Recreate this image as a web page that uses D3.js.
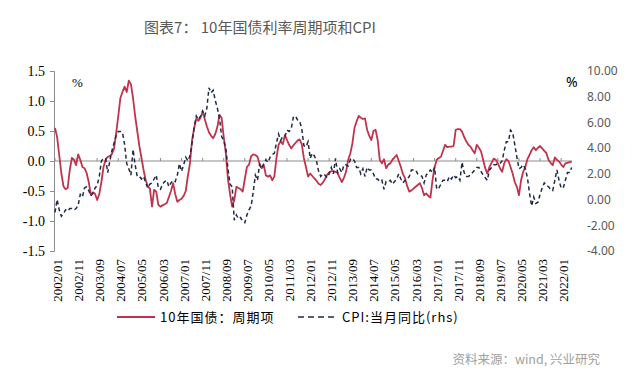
<html>
<head>
<meta charset="utf-8">
<title>10年国债利率周期项和CPI</title>
<style>
  body { margin: 0; background: #fff; }
</style>
</head>
<body>
<script src="https://cdnjs.cloudflare.com/ajax/libs/d3/7.8.5/d3.min.js"></script>
<script type="text/javascript">

// monthly, 2002/01 .. 2022/06
var bondCycle = [
  0.55, 0.40, 0.10, -0.20, -0.42, -0.47, -0.45, -0.15, 0.05, 0.02, -0.07, 0.11,
  0.02, -0.10, -0.12, -0.20, -0.35, -0.57, -0.52, -0.55, -0.65, -0.55, -0.35, -0.10,
  0.02, 0.07, 0.08, 0.12, 0.21, 0.46, 0.75, 1.05, 1.15, 1.24, 1.15, 1.34,
  1.28, 1.05, 0.75, 0.50, 0.25, 0.05, -0.15, -0.32, -0.42, -0.46, -0.76, -0.48,
  -0.51, -0.73, -0.76, -0.74, -0.72, -0.70, -0.60, -0.50, -0.37, -0.55, -0.68, -0.65,
  -0.63, -0.58, -0.50, -0.25, -0.04, 0.35, 0.55, 0.71, 0.67, 0.72, 0.82, 0.70,
  0.58, 0.48, 0.42, 0.38, 0.45, 0.57, 0.77, 0.72, 0.40, 0.13, -0.30, -0.55,
  -0.76, -0.65, -0.43, -0.45, -0.47, -0.51, -0.30, -0.10, -0.06, 0.08, 0.11, 0.10,
  0.07, -0.05, -0.12, -0.07, -0.24, -0.26, -0.24, -0.32, -0.26, 0.05, 0.27, 0.33,
  0.28, 0.43, 0.35, 0.27, 0.21, 0.26, 0.30, 0.34, 0.36, 0.28, 0.05, -0.10,
  -0.26, -0.21, -0.25, -0.29, -0.33, -0.38, -0.40, -0.36, -0.30, -0.23, -0.19, -0.17,
  -0.17, -0.18, -0.20, -0.28, -0.35, -0.28, -0.18, 0.02, 0.12, 0.29, 0.55, 0.66,
  0.75, 0.72, 0.70, 0.71, 0.52, 0.42, 0.35, 0.50, 0.52, 0.35, 0.02, -0.04,
  0.03, -0.12, -0.06, -0.04, 0.02, 0.06, 0.10, 0.00, -0.10, -0.22, -0.29, -0.42,
  -0.51, -0.49, -0.46, -0.43, -0.40, -0.37, -0.45, -0.57, -0.54, -0.58, -0.61, -0.32,
  -0.10, 0.02, 0.05, 0.07, 0.17, 0.27, 0.23, 0.24, 0.24, 0.25, 0.52, 0.53,
  0.53, 0.49, 0.40, 0.33, 0.27, 0.24, 0.18, 0.13, 0.27, 0.22, 0.16, 0.02,
  -0.12, -0.21, -0.10, -0.03, 0.04, 0.02, -0.04, -0.12, -0.18, -0.04, 0.03, 0.00,
  -0.10, -0.21, -0.35, -0.43, -0.57, -0.32, -0.18, -0.10, 0.03, 0.10, 0.18, 0.23,
  0.18, 0.22, 0.25, 0.21, 0.17, 0.13, 0.02, -0.03, -0.07, 0.06, 0.02, -0.01,
  -0.06, -0.10, -0.04, -0.03, -0.02, -0.01
];

var cpiYoy = [
  -1.0, 0.0, -0.8, -1.3, -1.1, -0.8, -0.9, -0.7, -0.7, -0.8, -0.7, -0.4,
  0.4, 0.2, 0.9, 1.0, 0.7, 0.3, 0.5, 0.9, 1.1, 1.8, 3.0, 3.2,
  3.2, 2.1, 3.0, 3.8, 4.4, 5.0, 5.3, 5.3, 5.2, 4.3, 2.8, 2.4,
  1.9, 3.9, 2.7, 1.8, 1.8, 1.6, 1.8, 1.3, 0.9, 1.2, 1.3, 1.6,
  1.9, 0.9, 0.8, 1.2, 1.4, 1.5, 1.0, 1.3, 1.5, 1.4, 1.9, 2.8,
  2.2, 2.7, 3.3, 3.0, 3.4, 4.4, 5.6, 6.5, 6.2, 6.5, 6.9, 6.5,
  7.1, 8.7, 8.3, 8.5, 7.7, 7.1, 6.3, 4.9, 4.6, 4.0, 2.4, 1.2,
  1.0, -1.6, -1.2, -1.5, -1.4, -1.7, -1.8, -1.2, -0.8, -0.5, 0.6, 1.9,
  1.5, 2.7, 2.4, 2.8, 3.1, 2.9, 3.3, 3.5, 3.6, 4.4, 5.1, 4.6,
  4.9, 4.9, 5.4, 5.3, 5.5, 6.4, 6.5, 6.2, 6.1, 5.5, 4.2, 4.1,
  4.5, 3.2, 3.6, 3.4, 3.0, 2.2, 1.8, 2.0, 1.9, 1.7, 2.0, 2.5,
  2.0, 3.2, 2.1, 2.4, 2.1, 2.7, 2.7, 2.6, 3.1, 3.2, 3.0, 2.5,
  2.5, 2.0, 2.4, 1.8, 2.5, 2.3, 2.3, 2.0, 1.6, 1.6, 1.4, 1.5,
  0.8, 1.4, 1.4, 1.5, 1.2, 1.4, 1.6, 2.0, 1.6, 1.3, 1.5, 1.6,
  1.8, 2.3, 2.3, 2.3, 2.0, 1.9, 1.8, 1.3, 1.9, 2.1, 2.3, 2.1,
  2.5, 0.8, 0.9, 1.2, 1.5, 1.5, 1.4, 1.8, 1.6, 1.9, 1.7, 1.8,
  1.5, 2.9, 2.1, 1.8, 1.8, 1.9, 2.1, 2.3, 2.5, 2.5, 2.2, 1.9,
  1.7, 1.5, 2.3, 2.5, 2.7, 2.7, 2.8, 2.8, 3.0, 3.8, 4.5, 4.5,
  5.4, 5.2, 4.3, 3.3, 2.4, 2.5, 2.7, 2.4, 1.7, 0.5, -0.5, 0.2,
  -0.3, -0.2, 0.4, 0.9, 1.3, 1.1, 1.0, 0.8, 0.7, 1.5, 2.3, 1.5,
  0.9, 0.9, 1.5, 2.1, 2.1, 2.5
];

var xTickLabels = ['2002/01', '2002/11', '2003/09', '2004/07', '2005/05', '2006/03',
  '2007/01', '2007/11', '2008/09', '2009/07', '2010/05', '2011/03', '2012/01',
  '2012/11', '2013/09', '2014/07', '2015/05', '2016/03', '2017/01', '2017/11',
  '2018/09', '2019/07', '2020/05', '2021/03', '2022/01'];
var leftTicks = [1.5, 1.0, 0.5, 0.0, -0.5, -1.0, -1.5];
var rightTicks = [10, 8, 6, 4, 2, 0, -2, -4];

var w = 640, h = 384;

var svg = d3.select('body').append('svg')
    .style('background', '#FFF')
    .attr('width', w)
    .attr('height', h);

// month index of a 'yyyy/mm' label, counted from 2002/01
var monthIndex = function(s){
  var p = s.split('/');
  return (+p[0] - 2002) * 12 + (+p[1] - 1);
};

var x = d3.scaleLinear().domain([0, bondCycle.length - 1]).range([55, 571.7]);
var yL = d3.scaleLinear().domain([-1.5, 1.5]).range([251, 71]);
var yR = d3.scaleLinear().domain([-4, 10]).range([251, 71]);

// title
svg.append('text')
    .attr('x', 260).attr('y', 33)
    .attr('text-anchor', 'middle')
    .style('font-family', '"Noto Sans CJK SC", "Noto Sans", sans-serif')
    .style('font-size', '15px')
    .style('fill', '#595959')
    .text('图表7：  10年国债利率周期项和CPI');

// left axis
var gl = svg.append('g')
    .attr('transform', 'translate(54,0)')
    .call(d3.axisLeft(yL).tickValues(leftTicks).tickSize(4).tickPadding(5)
      .tickFormat(function(d){ return d.toFixed(1); }));
gl.select('.domain').attr('stroke', '#8c8c8c');
gl.selectAll('.tick line').attr('stroke', '#8c8c8c');
gl.selectAll('.tick text')
    .style('font-family', '"Liberation Serif", "Times New Roman", serif')
    .style('font-size', '14px')
    .style('fill', '#000');

// right axis, labels only
var gr = svg.append('g')
    .attr('transform', 'translate(583,0)')
    .call(d3.axisRight(yR).tickValues(rightTicks).tickSize(0).tickPadding(4)
      .tickFormat(function(d){ return d.toFixed(2); }));
gr.select('.domain').remove();
gr.selectAll('.tick text')
    .style('font-family', '"Noto Sans", sans-serif')
    .style('font-size', '12px')
    .style('fill', '#595959');

// unit marks
svg.append('text').attr('x', 72).attr('y', 87)
    .style('font-family', '"Liberation Serif", serif').style('font-size', '13px')
    .text('%');
svg.append('text').attr('x', 566).attr('y', 87)
    .style('font-family', '"Noto Sans", sans-serif').style('font-size', '14px')
    .text('%');

// zero line with category ticks
svg.append('line')
    .attr('x1', 54).attr('x2', 572)
    .attr('y1', yL(0)).attr('y2', yL(0))
    .attr('stroke', '#8c8c8c').attr('stroke-width', 1);

svg.selectAll('.xtick')
    .data(xTickLabels)
    .enter()
    .append('line')
    .attr('class', 'xtick')
    .attr('x1', function(d){ return x(monthIndex(d)); })
    .attr('x2', function(d){ return x(monthIndex(d)); })
    .attr('y1', yL(0)).attr('y2', yL(0) - 3)
    .attr('stroke', '#8c8c8c');

svg.selectAll('.xlabel')
    .data(xTickLabels)
    .enter()
    .append('text')
    .attr('class', 'xlabel')
    .attr('transform', function(d){
      return 'translate(' + (x(monthIndex(d)) + 2.5) + ',259) rotate(-90)';
    })
    .attr('text-anchor', 'end')
    .attr('dy', '0.35em')
    .style('font-family', '"Liberation Serif", "Times New Roman", serif')
    .style('font-size', '13px')
    .style('fill', '#000')
    .text(function(d){ return d; });

// series
var bondLine = d3.line()
    .x(function(d, i){ return x(i); })
    .y(function(d){ return yL(d); });
var cpiLine = d3.line()
    .x(function(d, i){ return x(i); })
    .y(function(d){ return yR(d); });

svg.append('path')
    .datum(bondCycle)
    .attr('d', bondLine)
    .attr('fill', 'none')
    .attr('stroke', '#c0334d')
    .attr('stroke-width', 1.8)
    .attr('stroke-linejoin', 'round');

svg.append('path')
    .datum(cpiYoy)
    .attr('d', cpiLine)
    .attr('fill', 'none')
    .attr('stroke', '#1f2a44')
    .attr('stroke-width', 1.5)
    .attr('stroke-dasharray', '4,3');

// legend
var legendFont = '"Noto Sans CJK SC", sans-serif';
svg.append('line')
    .attr('x1', 117).attr('x2', 155).attr('y1', 317).attr('y2', 317)
    .attr('stroke', '#c0334d').attr('stroke-width', 1.8);
svg.append('text').attr('x', 160).attr('y', 322)
    .style('font-family', legendFont).style('font-size', '13px')
    .style('letter-spacing', '1px')
    .text('10年国债：周期项');
svg.append('line')
    .attr('x1', 298).attr('x2', 338).attr('y1', 317).attr('y2', 317)
    .attr('stroke', '#1f2a44').attr('stroke-width', 1.5)
    .attr('stroke-dasharray', '6,4');
svg.append('text').attr('x', 342).attr('y', 322)
    .style('font-family', legendFont).style('font-size', '13px')
    .style('letter-spacing', '1px')
    .text('CPI:当月同比(rhs)');

// source
svg.append('text').attr('x', 600).attr('y', 364)
    .attr('text-anchor', 'end')
    .style('font-family', '"Noto Sans CJK SC", sans-serif')
    .style('font-size', '12.5px')
    .style('fill', '#a0a0a0')
    .text('资料来源：wind, 兴业研究');

  </script>
</body>
</html>
